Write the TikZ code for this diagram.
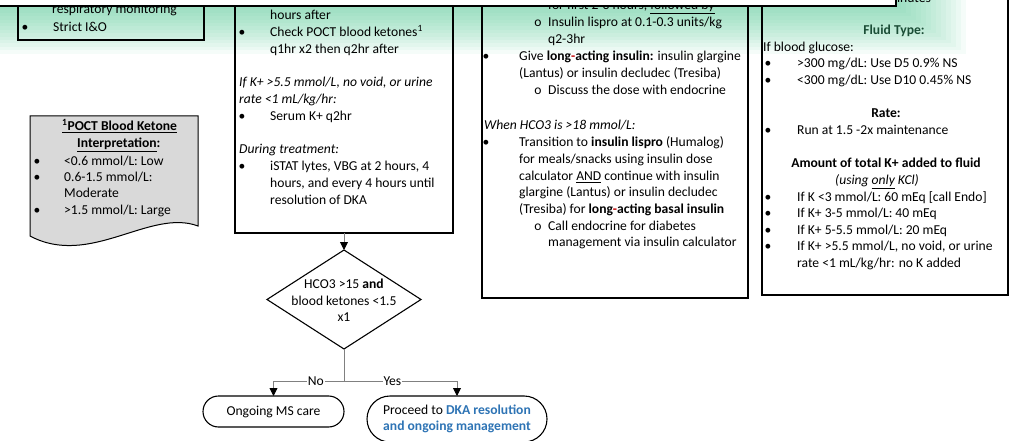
\documentclass[tikz,border=0pt]{standalone}
\usepackage{fontspec}
\setmainfont{Carlito}
\usetikzlibrary{shapes.geometric,arrows.meta}
\definecolor{glow}{RGB}{100,210,160}
\definecolor{dkblue}{HTML}{2E74B5}
\definecolor{hdgreen}{HTML}{1B4D36}
\definecolor{redh}{HTML}{C00000}
\definecolor{connc}{HTML}{808080}
\definecolor{docgray}{HTML}{D9D9D9}
\newcounter{tl}
\newcommand\redhy{{\color{redh}-}}
% plain line: x, centre y, text
\newcommand\Lt[3]{\stepcounter{tl}\node[txt] (n\arabic{tl}) at (#1,{#2+4.5}) {#3};}
% centred line
\newcommand\Lc[3]{\stepcounter{tl}\node[ctxt] (n\arabic{tl}) at (#1,{#2+4.5}) {#3};}
% bullet line: bullet x, text x, centre y, text
\newcommand\Lb[4]{\stepcounter{tl}\node[bul] (m\arabic{tl}) at (#1,{#3+4.5}) {\textbullet};\node[txt] (n\arabic{tl}) at (#2,{#3+4.5}) {#4};}
% sub bullet line
\newcommand\Ls[4]{\stepcounter{tl}\node[bul] (m\arabic{tl}) at (#1,{#3+4.5}) {o};\node[txt] (n\arabic{tl}) at (#2,{#3+4.5}) {#4};}
\tikzset{
  fnt/.style={font=\fontsize{13.6}{16.7}\selectfont},
  txt/.style={fnt, anchor=base west, inner sep=0pt},
  ctxt/.style={fnt, anchor=base, inner sep=0pt},
  bul/.style={fnt, anchor=base, inner sep=0pt},
  box/.style={draw=black, line width=1.2pt, inner sep=0pt, outer sep=0pt, anchor=south west},
  term/.style={draw=black, line width=1.1pt, fnt, align=center, inner sep=0pt, outer sep=0pt},
  cline/.style={draw=connc, line width=0.9pt, -{Triangle[width=8pt,length=8pt,color=black]}},
  lbl/.style={fnt, fill=white, inner sep=1pt},
}
\begin{document}
\begin{tikzpicture}[x=1pt,y=-1pt]
\useasboundingbox (0,0) rectangle (1015,441);
\clip (0,0) rectangle (1015,441);
\fill[white] (0,0) rectangle (1015,441);
% green glow under the top box
\foreach \i in {1,...,14} {
  \fill[glow, opacity=0.063] (-60,-60) rectangle ({896+5*\i},{6+3.4*\i});
}
% boxes
\node[box, minimum width=186, minimum height=90] (box1) at (18,40) {};
\node[box, minimum width=218, minimum height=290] (box2) at (235,233) {};
\node[box, minimum width=266, minimum height=350] (box3) at (482,298) {};
\node[box, minimum width=246, minimum height=350] (box4) at (762,295) {};
% document shape
\draw[fill=docgray, line width=1pt] (30,116) -- (198,116) -- (198,226)
  .. controls (150,208) and (90,268) .. (30,236) -- cycle;
% box 1
\Lt{52}{9.5}{respiratory monitoring}
\Lb{25}{53}{27}{Strict I\&O}
% POCT
\Lt{62}{126}{\textbf{\underline{\textsuperscript{1}POCT Blood Ketone}}}
\Lt{77}{143}{\textbf{\underline{Interpretation}:}}
\Lb{37}{64}{161}{<0.6 mmol/L: Low}
\Lb{37}{64}{177}{0.6-1.5 mmol/L:}
\Lt{64}{193}{Moderate}
\Lb{37}{64}{210}{>1.5 mmol/L: Large}
% box 2
\Lt{270}{15}{hours after}
\Lb{242}{270}{32}{Check POCT blood ketones\textsuperscript{1}}
\Lt{270}{49}{q1hr x2 then q2hr after}
\Lt{239}{82}{\textit{If K+ >5.5 mmol/L, no void, or urine}}
\Lt{239}{99}{\textit{rate <1 mL/kg/hr:}}
\Lb{242}{270}{116}{Serum K+ q2hr}
\Lt{239}{149}{\textit{During treatment:}}
\Lb{242}{270}{166}{iSTAT lytes, VBG at 2 hours, 4}
\Lt{270}{183}{hours, and every 4 hours until}
\Lt{270}{200}{resolution of DKA}
% box 3
\Lt{548}{5}{for first 2-3 hours, \underline{followed by}}
\Ls{538}{548}{22}{Insulin lispro at 0.1-0.3 units/kg}
\Lt{548}{39}{q2-3hr}
\Lb{486}{519}{56}{Give \textbf{long\redhy acting insulin:} insulin glargine}
\Lt{519}{73}{(Lantus) or insulin decludec (Tresiba)}
\Ls{538}{548}{90}{Discuss the dose with endocrine}
\Lt{484}{125}{\textit{When HCO3 is >18 mmol/L:}}
\Lb{486}{519}{142}{Transition to \textbf{insulin lispro} (Humalog)}
\Lt{519}{159}{for meals/snacks using insulin dose}
\Lt{519}{176}{calculator \underline{AND} continue with insulin}
\Lt{519}{192}{glargine (Lantus) or insulin decludec}
\Lt{519}{209}{(Tresiba) for \textbf{long\redhy acting basal insulin}}
\Ls{538}{548}{226}{Call endocrine for diabetes}
\Lt{548}{242}{management via insulin calculator}
% box 4
\Lc{894}{30}{\textbf{\color{hdgreen}Fluid Type:}}
\Lt{763}{47}{If blood glucose:}
\Lb{768}{797}{63}{>300 mg/dL: Use D5 0.9\% NS}
\Lb{768}{797}{80}{<300 mg/dL: Use D10 0.45\% NS}
\Lc{886}{113}{\textbf{Rate:}}
\Lb{768}{797}{130}{Run at 1.5 -2x maintenance}
\Lc{886}{163}{\textbf{Amount of total K+ added to fluid}}
\Lc{877}{180}{\textit{(using \underline{only} KCl)}}
\Lb{768}{797}{197}{If K <3 mmol/L: 60 mEq [call Endo]}
\Lb{768}{797}{213}{If K+ 3-5 mmol/L: 40 mEq}
\Lb{768}{797}{230}{If K+ 5-5.5 mmol/L: 20 mEq}
\Lb{768}{797}{246}{If K+ >5.5 mmol/L, no void, or urine}
\Lt{797}{263}{rate <1 mL/kg/hr: no K added}
\Lt{886}{-2}{minutes}
% decision
\node[diamond, draw=black, line width=1.1pt, minimum width=154, minimum height=99, inner sep=0pt, outer sep=0pt] (dia) at (344,299.5) {};
\node[fnt, align=center, inner sep=0pt] (diat) at (344,300.5) {HCO3 >15 \textbf{and}\\blood ketones <1.5\\x1};
\node[term, minimum width=141, minimum height=31, rounded corners=15.5pt] (term1) at (273.5,411.5) {Ongoing MS care};
\node[term, minimum width=180, minimum height=46, rounded corners=23pt] (term2) at (457,419) {Proceed to \textbf{\color{dkblue}DKA resolution}\\\textbf{\color{dkblue}and ongoing management}};
% connectors
\draw[cline] (box2.south) -- (dia.north);
\draw[draw=connc, line width=0.9pt] (dia.south) -- ++(0,32) coordinate (sp);
\draw[cline] (sp) -| node[lbl, pos=0.2] (lno) {No} (term1.north);
\draw[cline] (sp) -| node[lbl, pos=0.214] (lyes) {Yes} (term2.north);
% top white box
\draw[line width=2.2pt, fill=white] (-20,-30) rectangle (896,6);
\end{tikzpicture}
\end{document}
